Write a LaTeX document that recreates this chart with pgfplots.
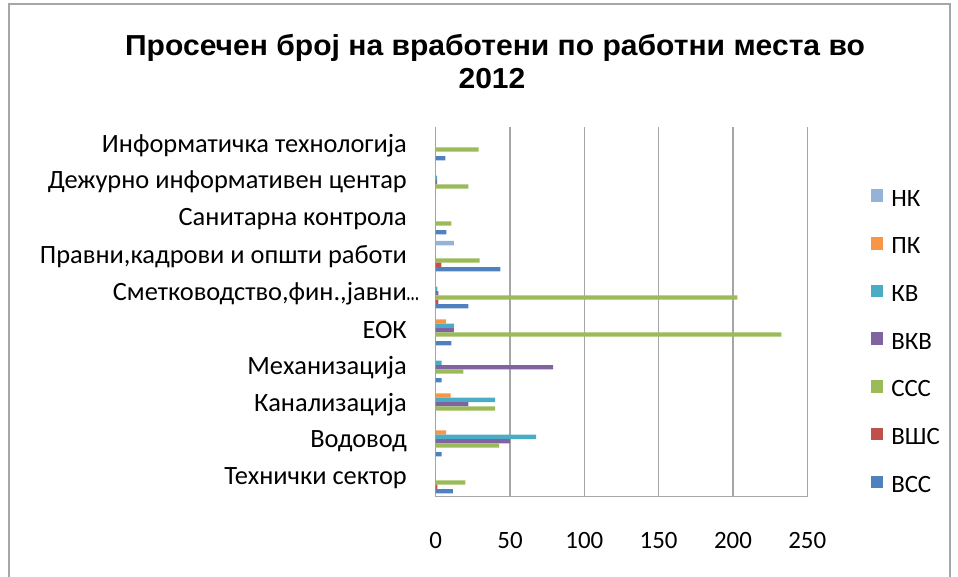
\documentclass[border=0pt]{standalone}
\usepackage{fontspec}
\setmainfont{Carlito}
\newfontfamily\titlefont{Liberation Sans}
\usepackage{graphicx}
\usepackage{pgfplots}
\pgfplotsset{compat=1.18}
\usepackage{pgfplotstable}

\definecolor{cVSS}{HTML}{4F81BD}
\definecolor{cVSHS}{HTML}{C0504D}
\definecolor{cSSS}{HTML}{9BBB59}
\definecolor{cVKV}{HTML}{8064A2}
\definecolor{cKV}{HTML}{4BACC6}
\definecolor{cPK}{HTML}{F79646}
\definecolor{cNK}{HTML}{95B3D7}
\definecolor{gridgray}{RGB}{166,166,166}

\pgfplotstableread{
idx NK   PK  KV   VKV  SSS   VSHS VSS
0   0    0   0    0    20    1.1  11.6
1   0    7   67.5 50   42.6  0    4
2   0    10  40   22   40    0    0
3   0    0   4    79   18.6  0    4
4   0    7   12.3 12.3 232.5 0    10.5
5   0    0   1.1  1.8  203   1.8  22
6   12.3 0   0    0    29.6  3.8  43.5
7   0    0   0    0    10.5  0    7.1
8   0    0   1    1    22    0    0
9   0    0   0    0    28.9  0    6.5
}\datatable

\begin{document}
\begin{tikzpicture}
\path[use as bounding box] (0bp,0bp) rectangle (958bp,577bp);
\draw[gridgray, line width=1.5bp] (9bp,0bp) -- (9bp,573bp) -- (950bp,573bp) -- (950bp,0bp);
\node[font=\titlefont\bfseries\fontsize{29}{34}\selectfont, anchor=base, inner sep=0pt] at (495bp,521.3bp) {\scalebox{1.04}[1]{Просечен број на вработени по работни места во}};
\node[font=\titlefont\bfseries\fontsize{29}{34}\selectfont, anchor=base, inner sep=0pt] at (492bp,488.5bp) {\scalebox{1.04}[1]{2012}};
\begin{axis}[
  at={(435.7bp,80.3bp)}, anchor=south west,
  scale only axis, width=371.6bp, height=370bp,
  xbar, bar width=4.35bp,
  xmin=0, xmax=250, ymin=-0.5, ymax=9.5,
  xtick={0,50,...,250},
  ytick={0,...,9},
  yticklabels={Технички сектор, Водовод, Канализација, Механизација, ЕОК,
    {Сметководство,фин.,јавни\rlap{\scalebox{0.65}[1]{…}}},
    {Правни,кадрови и општи работи}, Санитарна контрола,
    Дежурно информативен центар, Информатичка технологија},
  xmajorgrids, grid style={color=gridgray, line width=1.5bp},
  axis lines*=left,
  axis line style={color=gridgray, line width=1.5bp, -},
  major tick length=0pt,
  tick label style={font=\fontsize{25}{30}\selectfont, inner sep=0pt},
  xticklabel style={anchor=north, yshift=-35bp},
  yticklabel style={anchor=east, xshift=-28.7bp, font=\fontsize{26.5}{30}\selectfont},
  /pgf/number format/assume math mode=true,
  legend style={at={(1.1706,0.832)}, anchor=north west, draw=none, fill=none,
    inner sep=0pt, font=\fontsize{25}{30}\selectfont, row sep=25.7bp, column sep=8bp,
    cells={anchor=west},
    nodes={inner ysep=0pt, inner xsep=0pt, text height=17bp, text depth=5bp}},
  legend image code/.code={\path (0bp,6bp) (12.5bp,6bp);
    \fill[#1, overlay] (0bp,-1.75bp) rectangle (12.5bp,10.75bp);},
]
\addplot[fill=cNK, draw=none, bar shift=13.05bp] table[x=NK, y=idx] {\datatable};
\addplot[fill=cPK, draw=none, bar shift=8.7bp] table[x=PK, y=idx] {\datatable};
\addplot[fill=cKV, draw=none, bar shift=4.35bp] table[x=KV, y=idx] {\datatable};
\addplot[fill=cVKV, draw=none, bar shift=0bp] table[x=VKV, y=idx] {\datatable};
\addplot[fill=cSSS, draw=none, bar shift=-4.35bp] table[x=SSS, y=idx] {\datatable};
\addplot[fill=cVSHS, draw=none, bar shift=-8.7bp] table[x=VSHS, y=idx] {\datatable};
\addplot[fill=cVSS, draw=none, bar shift=-13.05bp] table[x=VSS, y=idx] {\datatable};
\legend{НК, ПК, КВ, ВКВ, ССС, ВШС, ВСС}
\end{axis}
\end{tikzpicture}
\end{document}
